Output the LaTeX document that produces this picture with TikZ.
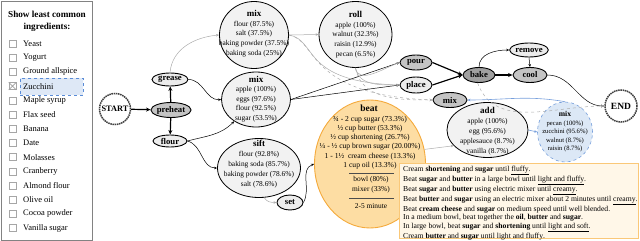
\documentclass[tikz,border=0pt]{standalone}
\usepackage{fontspec}
\setmainfont{Liberation Serif}
\usetikzlibrary{shapes.geometric,arrows.meta}
\definecolor{beatfill}{RGB}{253,221,163}
\definecolor{beatline}{RGB}{244,170,60}
\definecolor{boxfill}{RGB}{255,247,232}
\definecolor{boxline}{RGB}{250,200,120}
\definecolor{bluefill}{RGB}{220,232,246}
\definecolor{blueline}{RGB}{120,160,220}
\definecolor{hlfill}{RGB}{222,232,246}
\definecolor{hlline}{RGB}{90,140,215}
\definecolor{stepfill}{RGB}{236,236,236}
\definecolor{midfill}{RGB}{196,196,196}
\definecolor{darkfill}{RGB}{160,160,160}
\definecolor{infofill}{RGB}{242,242,242}
\definecolor{panelline}{RGB}{130,130,130}
\begin{document}
\begin{tikzpicture}[x=1pt,y=-1pt,
  stepbox/.style={ellipse, draw=black, line width=0.9pt, fill=stepfill, inner sep=0pt,
    font=\fontsize{8.7}{10}\selectfont\bfseries},
  termbox/.style={circle, draw=black!75, fill=white, line width=1.5pt,
    dash pattern=on 1.5pt off 0.7pt, inner sep=0pt, font=\fontsize{8.3}{10}\selectfont\bfseries},
  infobox/.style={ellipse, draw=black, line width=0.8pt, fill=infofill, inner sep=0pt},
  infotext/.style={align=center, inner sep=0pt, font=\fontsize{7.4}{9.7}\selectfont},
  chk/.style={draw=gray!70, line width=0.6pt, minimum size=7pt, inner sep=0pt},
  itemtext/.style={anchor=west, inner sep=0pt, font=\fontsize{8.5}{10}\selectfont},
  thickedge/.style={line width=1.2pt, -{Stealth[length=4.5pt,width=4pt]}},
  thinedge/.style={line width=0.5pt, -{Stealth[length=3pt,width=2.5pt]}},
  weakedge/.style={line width=0.5pt, draw=gray!65, -{Stealth[length=3pt,width=2.5pt]}},
  blueedge/.style={line width=0.6pt, draw=blueline, -{Stealth[length=3pt,width=2.5pt]}},
  rulebar/.style={line width=0.5pt, draw=black!70}
]
\useasboundingbox (0,0) rectangle (640,241);

% ---------- left panel ----------
\node[draw=panelline, line width=0.8pt, minimum width=91, minimum height=239, anchor=north west, inner sep=0pt] (panel) at (1,1) {};
\node[align=center, inner sep=0pt, font=\fontsize{9.2}{12}\selectfont\bfseries] (ptitle) at (47,21) {Show least common\\ingredients:};
\node[draw=hlline, fill=hlfill, dashed, line width=0.6pt, minimum width=63, minimum height=17, anchor=north west, inner sep=0pt] (hl) at (20,78) {};
\foreach \nm [count=\i] in {Yeast, Yogurt, Ground allspice, Zucchini, Maple syrup, Flax seed, Banana, Date, Molasses, Cranberry, Almond flour, Olive oil, Cocoa powder, Vanilla sugar}{
  \node[chk] (cb\i) at (12.5, 29.3+14.2*\i) {};
  \node[itemtext] (it\i) at (23, 29.3+14.2*\i) {\nm};
}
\draw[gray!75, line width=0.6pt] (cb4.north west) -- (cb4.south east) (cb4.north east) -- (cb4.south west);

% ---------- step nodes ----------
\node[termbox, minimum size=31] (start) at (115,109) {START};
\node[stepbox, fill=midfill, minimum width=38, minimum height=15] (preheat) at (171,110) {preheat};
\node[stepbox, minimum width=36, minimum height=13] (grease) at (170,79.5) {grease};
\node[stepbox, minimum width=34, minimum height=12] (flour) at (170,141) {flour};
\node[stepbox, minimum width=26, minimum height=15] (set) at (290,202.5) {set};
\node[stepbox, fill=midfill, minimum width=32, minimum height=15] (pour) at (416,62.5) {pour};
\node[stepbox, minimum width=32, minimum height=16] (place) at (416,85) {place};
\node[stepbox, fill=midfill, minimum width=34, minimum height=15] (mixs) at (450,100) {mix};
\node[stepbox, fill=darkfill, minimum width=32, minimum height=15] (bake) at (479,75) {bake};
\node[stepbox, fill=midfill, minimum width=34, minimum height=15] (cool) at (530,75) {cool};
\node[stepbox, minimum width=38, minimum height=14] (remove) at (529,50) {remove};
\node[termbox, minimum size=32, font=\fontsize{9.5}{10}\selectfont\bfseries] (END) at (621,106) {END};

% ---------- info ellipses ----------
\node[infobox, minimum width=69, minimum height=67] (mix1) at (254,35) {};
\node[infotext] (mix1t) at (254,33.5) {{\bfseries\fontsize{9}{9.7}\selectfont mix}\\flour (87.5\%)\\salt (37.5\%)\\baking powder (37.5\%)\\baking soda (25\%)};
\node[infobox, minimum width=69, minimum height=55] (mix2) at (256,99.5) {};
\node[infotext, font=\fontsize{7.4}{9.5}\selectfont] (mix2t) at (256,99) {{\bfseries\fontsize{9}{9.5}\selectfont mix}\\apple (100\%)\\eggs (97.6\%)\\flour (92.5\%)\\sugar (53.5\%)};
\node[infobox, minimum width=83, minimum height=59] (sift) at (259,168) {};
\node[infotext, font=\fontsize{7.4}{10}\selectfont] (siftt) at (259,164) {{\bfseries\fontsize{9}{10}\selectfont sift}\\flour (92.8\%)\\baking soda (85.7\%)\\baking powder (78.6\%)\\salt (78.6\%)};
\node[infobox, minimum width=73, minimum height=66] (roll) at (355.5,34.5) {};
\node[infotext] (rollt) at (355.5,34.5) {{\bfseries\fontsize{9}{9.7}\selectfont roll}\\apple (100\%)\\walnut (32.3\%)\\raisin (12.9\%)\\pecan (6.5\%)};
\node[infobox, minimum width=81, minimum height=55] (add) at (487.5,130) {};
\node[infotext, font=\fontsize{7.4}{10}\selectfont] (addt) at (487.5,131) {{\bfseries\fontsize{9}{10}\selectfont add}\\apple (100\%)\\egg (95.6\%)\\applesauce (8.7\%)\\vanilla (8.7\%)};
\node[ellipse, draw=blueline, fill=bluefill, dashed, line width=0.6pt, inner sep=0pt, minimum width=55, minimum height=60] (bluemix) at (565,132) {};
\node[infotext, font=\fontsize{6.6}{8.5}\selectfont] (bluemixt) at (565,132) {{\bfseries\fontsize{7.6}{8.5}\selectfont mix}\\pecan (100\%)\\zucchini (95.6\%)\\walnut (8.7\%)\\raisin (8.7\%)};

% ---------- beat ----------
\node[ellipse, draw=beatline, fill=beatfill, line width=0.9pt, inner sep=0pt, minimum width=111, minimum height=128] (beat) at (370,164) {};
\node[inner sep=0pt, font=\fontsize{9.5}{10}\selectfont\bfseries] (beattitle) at (369,108.5) {beat};
\node[infotext, font=\fontsize{7.6}{9.3}\selectfont] (beatt) at (370,142.5) {¾ - 2 cup sugar (73.3\%)\\½ cup butter (53.3\%)\\½ cup shortening (26.7\%)\\¼ - ½ cup brown sugar (20.00\%)\\1 - 1½\ \ cream cheese (13.3\%)\\1 cup oil (13.3\%)};
\coordinate (r1a) at (349,173); \coordinate (r1b) at (394,173);
\coordinate (r2a) at (349,198); \coordinate (r2b) at (394,198);
\draw[rulebar] (r1a) -- (r1b);
\draw[rulebar] (r2a) -- (r2b);
\node[infotext, font=\fontsize{7.4}{10}\selectfont] (beatt2) at (371,185) {bowl (80\%)\\mixer (33\%)};
\node[infotext] (beatt3) at (371,206.5) {2-5 minute};

% ---------- text box ----------
\node[draw=boxline, fill=boxfill, line width=1.2pt, minimum width=239, minimum height=75, anchor=north west, inner sep=0pt] (tbox) at (399,163) {};
\node[anchor=north west, align=left, inner sep=0pt, font=\fontsize{7.65}{8.3}\selectfont] (tboxt) at (403,166) {Cream \textbf{shortening} and \textbf{sugar} until \underline{fluffy}.\\
Beat \textbf{sugar} and \textbf{butter} in a large bowl until \underline{light and fluffy}.\\
Beat \textbf{sugar} and \textbf{butter} using electric mixer until \underline{creamy}.\\
Beat \textbf{butter} and \textbf{sugar} using an electric mixer about 2 minutes until \underline{creamy}.\\
Beat \textbf{cream cheese} and \textbf{sugar} on medium speed until well blended.\\
In a medium bowl, beat together the \textbf{oil}, \textbf{butter} and \textbf{sugar}.\\
In large bowl, beat \textbf{sugar} and \textbf{shortening} until \underline{light and soft}.\\
Cream \textbf{butter} and \textbf{sugar} until \underline{light and fluffy}.};

% ---------- connectors ----------
\draw[thickedge] (start) -- (preheat);
\draw[thickedge] (preheat) -- (grease);
\draw[thickedge] (preheat) -- (flour);
\draw[weakedge] (grease.north) to[out=85,in=185] (mix1.west);
\draw[thinedge] (grease.east) to[out=0,in=185] (mix2.west);
\draw[thinedge] (flour.east) to[out=15,in=225] (mix2.225);
\draw[thinedge] (flour.east) to[out=-15,in=180] (sift.west);
\draw[weakedge] (sift.-80) to[out=-60,in=180] (set.west);
\draw[thinedge] (set.east) to[out=60,in=200] (beat.west);
\draw[weakedge] (mix1.east) -- (roll.west);
\draw[weakedge] (mix1.east) .. controls (318,40) and (300,82) .. (place.west);
\draw[weakedge, dashed] (mix1.east) .. controls (318,40) and (305,95) .. (mixs.west);
\draw[thinedge] (mix2.east) -- (pour.west);
\draw[thinedge] (mix2.east) -- (place.west);
\draw[weakedge] (roll.south) to[out=-80,in=200] (pour.west);
\draw[weakedge] (roll.south) to[out=-80,in=180] (place.west);
\draw[weakedge, dashed] (roll.south) to[out=-80,in=180] (mixs.west);
\draw[thickedge] (pour.east) -- (bake.west);
\draw[thickedge] (place.east) -- (bake.west);
\draw[thickedge] (bake) -- (cool);
\draw[thinedge] (bake.north) to[out=90,in=180] (remove.west);
\draw[thinedge] (remove.south) -- (cool.north);
\draw[thinedge] (cool.east) to[out=0,in=180] (END.west);
\draw[weakedge, dashed] (bake.-100) to[out=-70,in=180] (END.west);
\draw[blueedge] (bluemix.north) to[out=170,in=0] (mixs.east);
\draw[blueedge] (add.east) -- (bluemix.west);
\draw[weakedge] (beat.15) -- (add.205);
\end{tikzpicture}
\end{document}
